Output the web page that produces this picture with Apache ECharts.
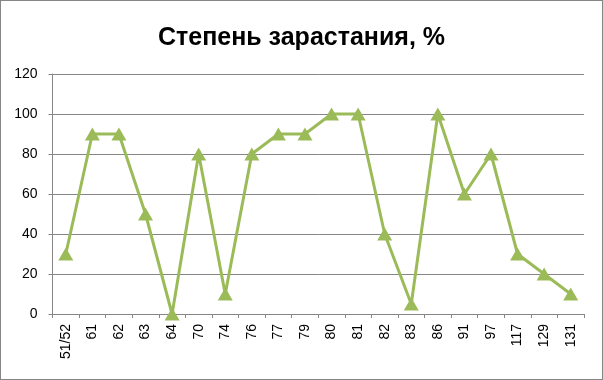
<!DOCTYPE html>
<html><head><meta charset="utf-8">
<script src="https://cdn.jsdelivr.net/npm/echarts@6/dist/echarts.min.js"></script>
<style>html,body{margin:0;padding:0;background:#fff}#c{width:603px;height:380px;box-sizing:border-box;border:1px solid #868686}</style>
</head><body><div id="c"></div>
<script>
const titleText = 'Степень зарастания, %';
const categories = ['51/52','61','62','63','64','70','74','76','77','79','80','81','82','83','86','91','97','117','129','131'];
const values = [30,90,90,50,0,80,10,80,90,90,100,100,40,5,100,60,80,30,20,10];
const yTicks = [0,20,40,60,80,100,120];

const chart = echarts.init(document.getElementById('c'), null, {renderer:'canvas'});
chart.setOption({
  animation:false,
  backgroundColor:'#fff',
  title:{text:titleText,left:'center',top:20,
    textStyle:{fontFamily:'Liberation Sans',fontSize:25,fontWeight:'bold',color:'#000'}},
  grid:{left:51.5,right:18,top:73,bottom:65,containLabel:false},
  xAxis:{type:'category',data:categories,boundaryGap:true,
    axisLine:{lineStyle:{color:'#868686',width:1}},
    axisTick:{show:true,alignWithLabel:false,length:4,lineStyle:{color:'#868686'}},
    axisLabel:{rotate:90,interval:0,fontFamily:'Liberation Sans',fontSize:14,color:'#000',margin:10}},
  yAxis:{type:'value',min:0,max:120,interval:20,
    axisLine:{show:true,lineStyle:{color:'#868686'}},
    axisTick:{show:true,length:4,lineStyle:{color:'#868686'}},
    splitLine:{lineStyle:{color:'#868686',width:1}},
    axisLabel:{fontFamily:'Liberation Sans',fontSize:14,color:'#000',margin:15,
      formatter:v=>yTicks.includes(v)?String(v):''}},
  series:[{type:'line',data:values,symbol:'triangle',symbolSize:[15,13],
    lineStyle:{color:'#9BBB59',width:3},itemStyle:{color:'#9BBB59'}}]
});
</script></body></html>
